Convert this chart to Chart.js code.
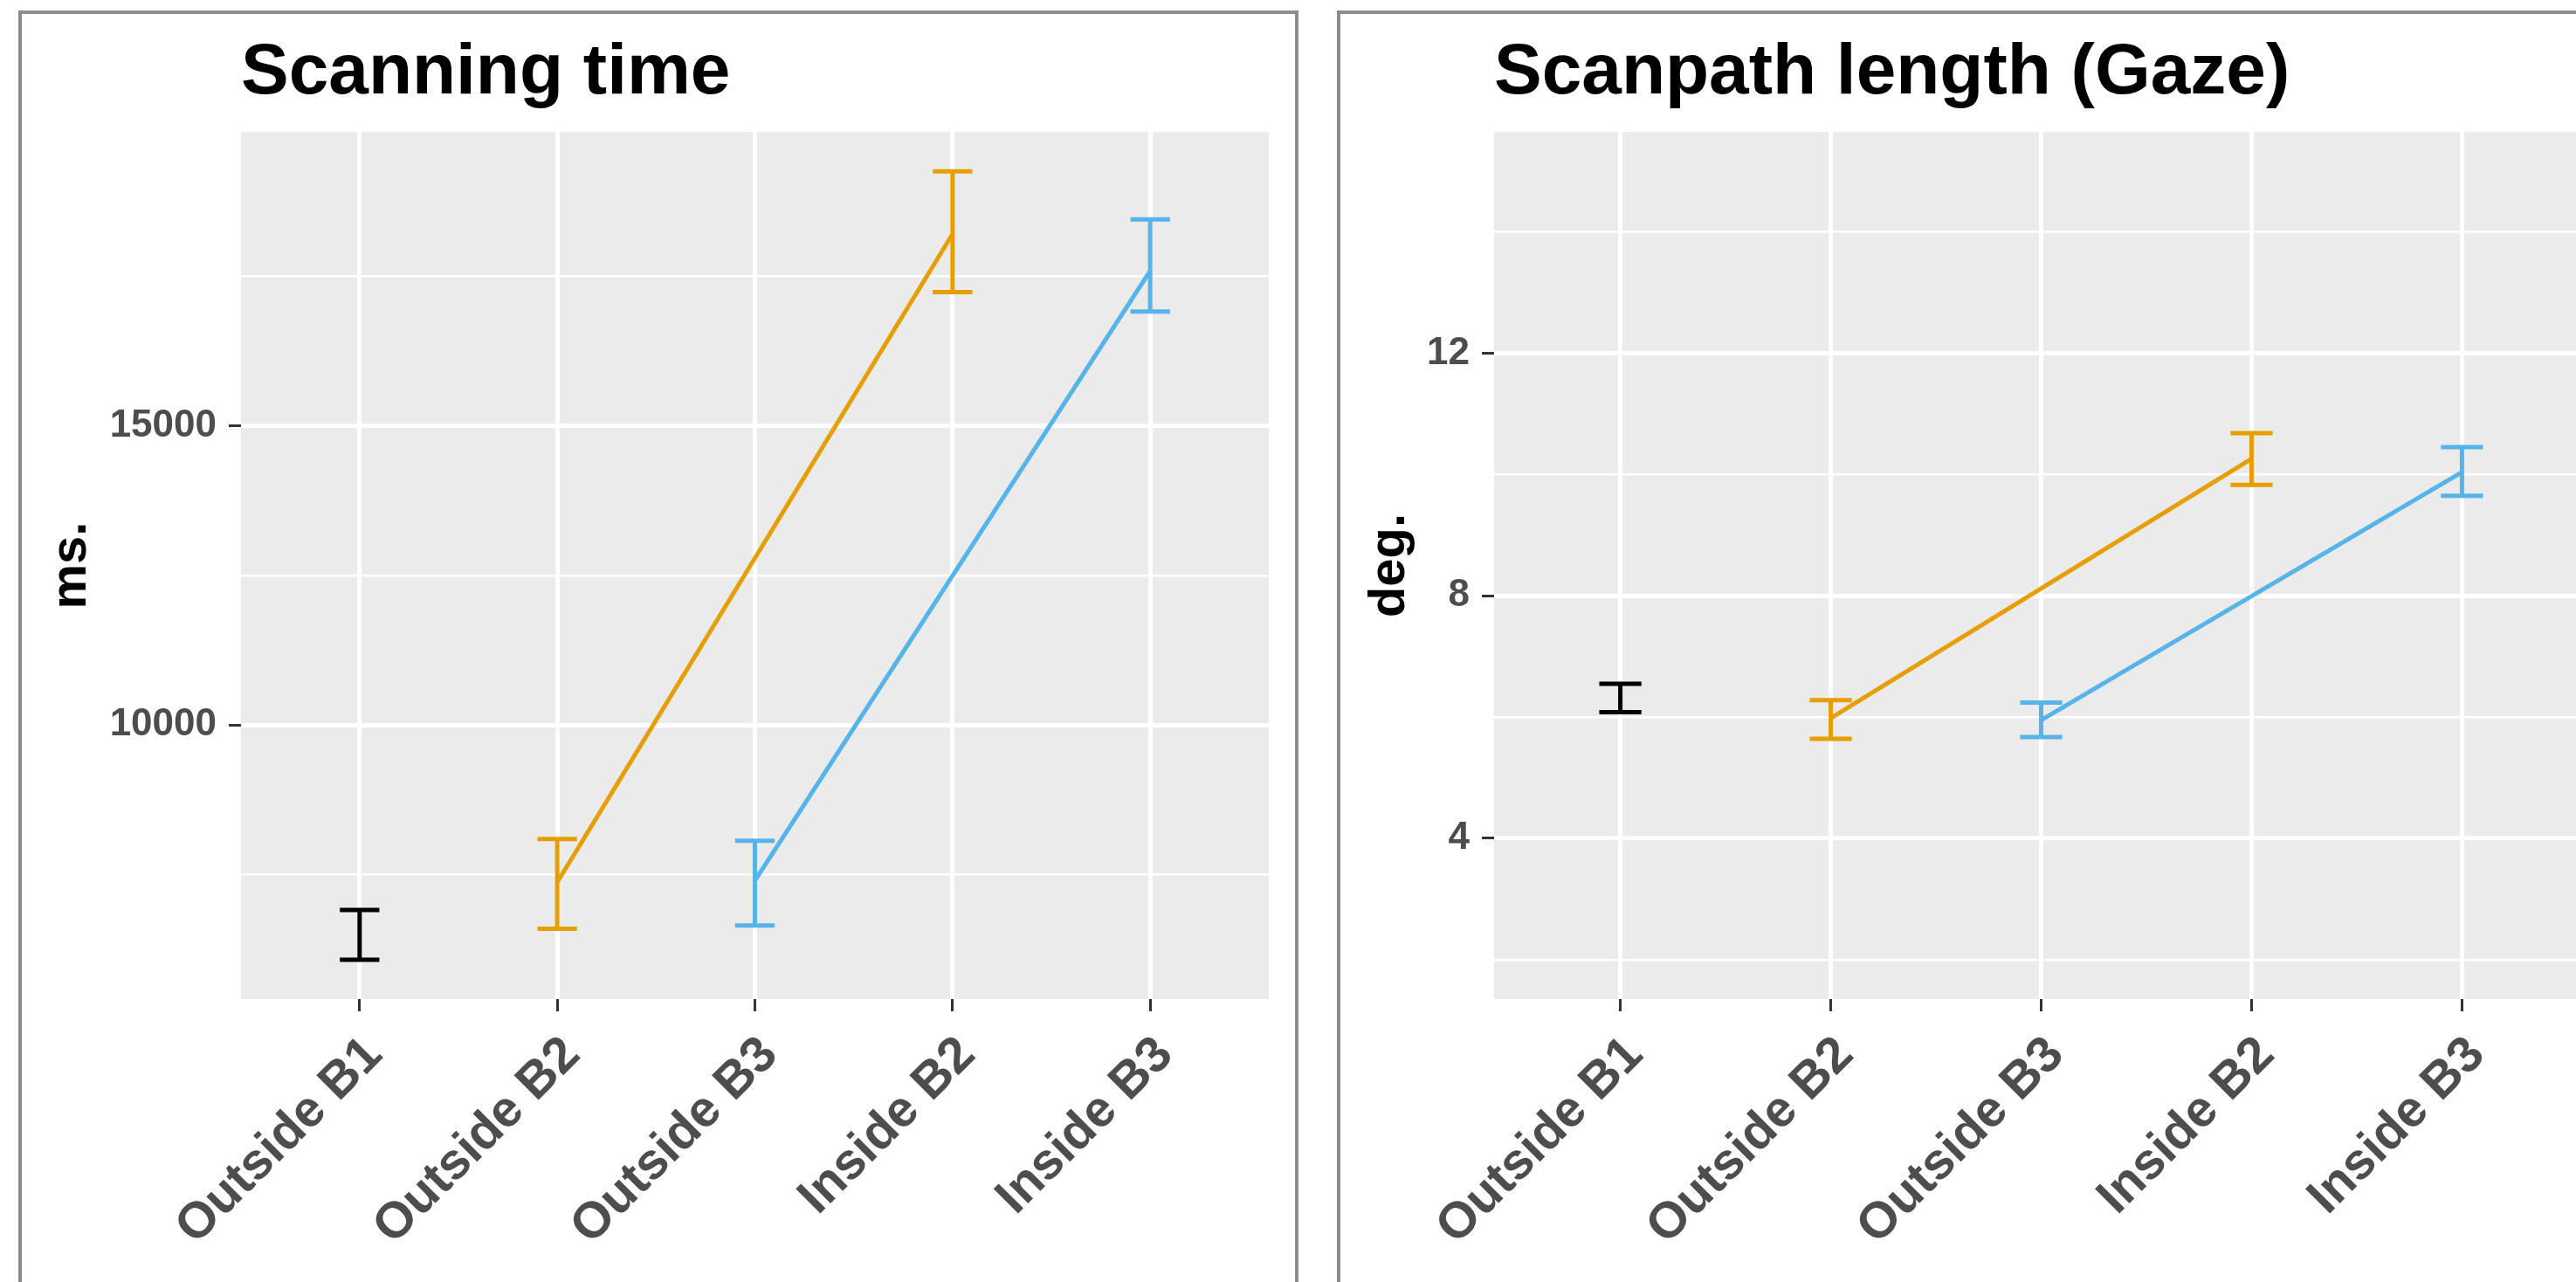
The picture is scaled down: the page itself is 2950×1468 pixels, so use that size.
<!DOCTYPE html>
<html lang="en">
<head>
<meta charset="UTF-8" />
<title>Scanning time and scanpath length</title>
<script src="https://cdn.jsdelivr.net/npm/chart.js"></script>
<style>
  html, body { margin: 0; background: #ffffff; overflow: hidden; width: 2950px; height: 1468px; }
  .panel { position: absolute; top: 12px; border: 4px solid #8c8c8c; background: #ffffff; height: 1520px; }
  #boxTime { left: 21px; width: 1458px; }
  #boxPath { left: 1531px; width: 1460px; }
  canvas { display: block; }
</style>
</head>
<body>
<div class="panel" id="boxTime"><canvas id="timeChart" width="1458" height="1452"></canvas></div>
<div class="panel" id="boxPath"><canvas id="pathChart" width="1460" height="1452"></canvas></div>

<script>
const categories = ["Outside B1", "Outside B2", "Outside B3", "Inside B2", "Inside B3"];
const groups = ["B1", "B2", "B3", "B2", "B3"];
const groupColors = { B1: "#000000", B2: "#E69F00", B3: "#56B4E9" };

// Scanning time (ms.)
const timeMean = [6490, 7371, 7398, 18202, 17589];
const timeLow = [6076, 6594, 6649, 17234, 16907];
const timeHigh = [6907, 8093, 8065, 19251, 18447];
const timeMajorTicks = [10000, 15000];
const timeMinorTicks = [7500, 12500, 17500];

// Scanpath length (deg.)
const pathMean = [6.31, 5.98, 5.95, 10.26, 10.04];
const pathLow = [6.08, 5.64, 5.67, 9.83, 9.65];
const pathHigh = [6.55, 6.28, 6.24, 10.68, 10.45];
const pathMajorTicks = [4, 8, 12];
const pathMinorTicks = [2, 6, 10, 14];

const FONT = "'Liberation Sans', Arial, Helvetica, sans-serif";
const CAP = 0.1; // half width of error bar caps, in category units

// grey panel behind the grid
const panelBackground = {
    id: "panelBackground",
    beforeDraw(chart) {
        const { ctx, chartArea: a } = chart;
        ctx.save();
        ctx.fillStyle = "#EBEBEB";
        ctx.fillRect(a.left, a.top, a.right - a.left, a.bottom - a.top);
        ctx.restore();
    }
};

function buildDatasets(mean, low, high) {
    const sets = [];
    ["B1", "B2", "B3"].forEach(g => {
        const idx = categories.map((c, i) => i).filter(i => groups[i] === g);
        const style = {
            borderColor: groupColors[g], borderWidth: 5, pointRadius: 0,
            showLine: true, spanGaps: false, borderCapStyle: "butt", tension: 0
        };
        if (idx.length > 1) {
            sets.push({ ...style, data: idx.map(i => ({ x: i, y: mean[i] })) });
        }
        const bars = [];
        idx.forEach(i => {
            bars.push(
                { x: i - CAP, y: high[i] }, { x: i + CAP, y: high[i] }, { x: i, y: null },
                { x: i, y: high[i] }, { x: i, y: low[i] }, { x: i, y: null },
                { x: i - CAP, y: low[i] }, { x: i + CAP, y: low[i] }, { x: i, y: null }
            );
        });
        sets.push({ ...style, data: bars });
    });
    return sets;
}

function makeChart(id, cfg) {
    const major = cfg.major;
    const isMajor = c => c.tick && major.includes(c.tick.value);
    return new Chart(document.getElementById(id), {
        type: "scatter",
        data: { datasets: buildDatasets(cfg.mean, cfg.low, cfg.high) },
        plugins: [panelBackground],
        options: {
            responsive: false,
            animation: false,
            layout: { padding: { left: 0, right: cfg.padRight, top: 0, bottom: 0 } },
            plugins: {
                legend: { display: false },
                tooltip: { enabled: false },
                title: {
                    display: true, text: cfg.title, align: "start", fullSize: false,
                    color: "#000000",
                    font: { family: FONT, size: 82, weight: "bold", lineHeight: 1.2 },
                    padding: { top: 19, bottom: 17.6 }
                }
            },
            scales: {
                x: {
                    type: "linear", min: -0.6, max: 4.6,
                    afterBuildTicks: s => { s.ticks = categories.map((c, i) => ({ value: i })); },
                    afterFit: s => { s.height = 324; },
                    border: { display: false },
                    grid: { color: "#FFFFFF", lineWidth: 5, tickColor: "#333333", tickWidth: 3, tickLength: 14 },
                    ticks: {
                        autoSkip: false, minRotation: 45, maxRotation: 45,
                        padding: 16, labelOffset: 17, color: "#4D4D4D",
                        font: { family: FONT, size: 58, weight: "bold" },
                        callback: v => categories[v]
                    }
                },
                y: {
                    min: cfg.min, max: cfg.max,
                    afterBuildTicks: s => {
                        s.ticks = major.concat(cfg.minor).sort((a, b) => a - b).map(v => ({ value: v }));
                    },
                    afterFit: s => { s.width = cfg.yWidth; },
                    border: { display: false },
                    grid: {
                        color: "#FFFFFF",
                        lineWidth: c => isMajor(c) ? 5 : 2.5,
                        tickColor: c => isMajor(c) ? "#333333" : "rgba(0,0,0,0)",
                        tickWidth: 3, tickLength: 14
                    },
                    ticks: {
                        autoSkip: false, padding: 14, color: "#4D4D4D",
                        font: { family: FONT, size: 44, weight: "bold" },
                        callback: v => major.includes(v) ? String(v) : ""
                    },
                    title: {
                        display: true, text: cfg.yTitle, color: "#000000",
                        font: { family: FONT, size: 58, weight: "bold" },
                        padding: { top: 22, bottom: 0 }
                    }
                }
            }
        }
    });
}

makeChart("timeChart", {
    title: "Scanning time", yTitle: "ms.",
    mean: timeMean, low: timeLow, high: timeHigh,
    major: timeMajorTicks, minor: timeMinorTicks,
    min: 5420, max: 19910, yWidth: 251, padRight: 30
});

makeChart("pathChart", {
    title: "Scanpath length (Gaze)", yTitle: "deg.",
    mean: pathMean, low: pathLow, high: pathHigh,
    major: pathMajorTicks, minor: pathMinorTicks,
    min: 1.35, max: 15.65, yWidth: 176, padRight: 31
});
</script>
</body>
</html>
